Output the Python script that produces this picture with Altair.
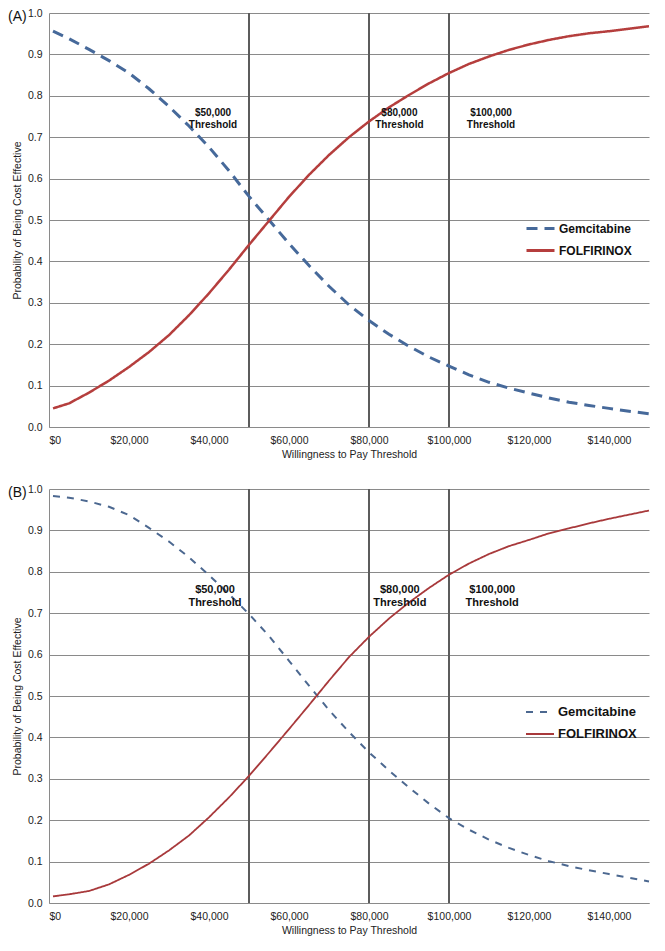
import altair as alt
import pandas as pd

# ---------------- data ----------------
WTP = [1000, 5000, 10000, 15000, 20000, 25000, 30000, 35000, 40000, 45000,
       50000, 55000, 60000, 65000, 70000, 75000, 80000, 85000, 90000, 95000,
       100000, 105000, 110000, 115000, 120000, 125000, 130000, 135000, 140000,
       145000, 150000]

GEM_A = [0.956, 0.938, 0.912, 0.885, 0.855, 0.817, 0.774, 0.727, 0.676, 0.619,
         0.557, 0.500, 0.443, 0.390, 0.340, 0.295, 0.257, 0.224, 0.195, 0.169,
         0.147, 0.126, 0.108, 0.094, 0.082, 0.070, 0.060, 0.052, 0.045, 0.038,
         0.032]
FOL_A = [0.045, 0.057, 0.083, 0.112, 0.145, 0.181, 0.222, 0.270, 0.323, 0.380,
         0.440, 0.498, 0.556, 0.609, 0.657, 0.700, 0.738, 0.772, 0.802, 0.830,
         0.855, 0.877, 0.895, 0.911, 0.924, 0.935, 0.944, 0.951, 0.956, 0.962,
         0.968]

GEM_B = [0.983, 0.979, 0.970, 0.957, 0.937, 0.906, 0.873, 0.835, 0.792, 0.746,
         0.698, 0.645, 0.585, 0.525, 0.466, 0.413, 0.364, 0.320, 0.279, 0.240,
         0.205, 0.177, 0.153, 0.133, 0.116, 0.101, 0.089, 0.079, 0.070, 0.061,
         0.052]
FOL_B = [0.016, 0.021, 0.029, 0.045, 0.068, 0.095, 0.127, 0.163, 0.207, 0.255,
         0.307, 0.363, 0.420, 0.478, 0.537, 0.594, 0.643, 0.687, 0.726, 0.761,
         0.793, 0.820, 0.843, 0.862, 0.877, 0.893, 0.905, 0.917, 0.928, 0.938,
         0.948]

SERIES = ["Gemcitabine", "FOLFIRINOX"]
THRESHOLDS = [50000, 80000, 100000]
THRESH_TEXT = ["$50,000\nThreshold", "$80,000\nThreshold", "$100,000\nThreshold"]
THRESH_X_A = [41000, 87600, 110500]
THRESH_X_B = [41500, 87700, 110800]
THRESH_Y_A = [0.759, 0.759, 0.759]
THRESH_Y_B = [0.757, 0.757, 0.757]
X_TICKS = [0, 20000, 40000, 60000, 80000, 100000, 120000, 140000]
Y_TICKS = [0.0, 0.1, 0.2, 0.3, 0.4, 0.5, 0.6, 0.7, 0.8, 0.9, 1.0]

FONT = "Liberation Sans"
PANEL_W = 600
PANEL_H = 414


def panel(tag, gem, fol, tx, ty, colors, dashes, widths, legend_font, thr_font,
          legend_y):
    df = pd.DataFrame({
        "wtp": WTP * 2,
        "p": gem + fol,
        "series": [SERIES[0]] * len(WTP) + [SERIES[1]] * len(WTP),
    })
    x = alt.X("wtp:Q", title="Willingness to Pay Threshold",
              scale=alt.Scale(domain=[0, 150000], nice=False),
              axis=alt.Axis(values=X_TICKS, format="$,.0f", grid=False,
                            ticks=False, labelPadding=8, titlePadding=4,
                            domainColor="#8a8a8a"))
    y = alt.Y("p:Q", title="Probability of Being Cost Effective",
              scale=alt.Scale(domain=[0, 1], nice=False),
              axis=alt.Axis(values=Y_TICKS, format=".1f", grid=True,
                            gridColor="#8a8a8a", gridWidth=1, ticks=False,
                            labelPadding=7, titlePadding=5,
                            domainColor="#8a8a8a"))
    leg = alt.Legend(orient="none", legendX=476, legendY=legend_y, title=None,
                     symbolType="stroke", symbolSize=784,
                     symbolStrokeWidth=widths[0], labelFont=FONT,
                     labelFontSize=legend_font, labelFontWeight="bold",
                     labelColor="#111111", rowPadding=-6, padding=0,
                     labelOffset=3)
    color = alt.Color("series:N",
                      scale=alt.Scale(domain=SERIES, range=colors), legend=leg)
    dash = alt.StrokeDash("series:N",
                          scale=alt.Scale(domain=SERIES, range=dashes),
                          legend=leg)

    rules = alt.Chart(pd.DataFrame({"t": THRESHOLDS})).mark_rule(
        color="#5c5c5c", strokeWidth=2).encode(x="t:Q")

    gem_line = alt.Chart(df).transform_filter(
        alt.datum.series == SERIES[0]).mark_line(strokeWidth=widths[0]).encode(
        x=x, y=y, color=color, strokeDash=dash, order="wtp:Q")
    fol_line = alt.Chart(df).transform_filter(
        alt.datum.series == SERIES[1]).mark_line(strokeWidth=widths[1]).encode(
        x=x, y=y, color=color, strokeDash=dash, order="wtp:Q")

    tdf = pd.DataFrame({"x": tx, "y": ty, "t": THRESH_TEXT})
    tlabels = alt.Chart(tdf).mark_text(
        font=FONT, fontSize=thr_font, fontWeight="bold", color="#111111",
        lineBreak="\n", align="center", baseline="middle", lineHeight=thr_font + 2
    ).encode(x="x:Q", y="y:Q", text="t:N")

    tagtext = alt.Chart(pd.DataFrame({"t": [tag]})).mark_text(
        font=FONT, fontSize=14, align="left", baseline="middle", color="#111111"
    ).encode(x=alt.value(-41), y=alt.value(4), text="t:N")

    return alt.layer(rules, gem_line, fol_line, tlabels, tagtext).properties(
        width=PANEL_W, height=PANEL_H)


pa = panel("(A)", GEM_A, FOL_A, THRESH_X_A, THRESH_Y_A,
           ["#46699a", "#b53e3d"], [[11, 7], [1, 0]], [3, 2.5], 12, 10, 200)
pb = panel("(B)", GEM_B, FOL_B, THRESH_X_B, THRESH_Y_B,
           ["#4c6890", "#a8393b"], [[7, 7], [1, 0]], [2, 1.8], 13, 11, 208)

chart = alt.vconcat(pa, pb, spacing=24).resolve_scale(
    color="independent", strokeDash="independent"
).properties(
    padding={"top": 0, "left": 0, "right": 0, "bottom": 0},
    autosize=alt.AutoSizeParams(type="pad"),
    background="white"
).configure_view(stroke=None).configure_axis(
    labelFont=FONT, titleFont=FONT, labelFontSize=10.5, titleFontSize=10.5,
    labelColor="#222222", titleColor="#222222", titleFontWeight="normal"
)

chart.save("out.html", embed_options={"renderer": "svg", "actions": False})
